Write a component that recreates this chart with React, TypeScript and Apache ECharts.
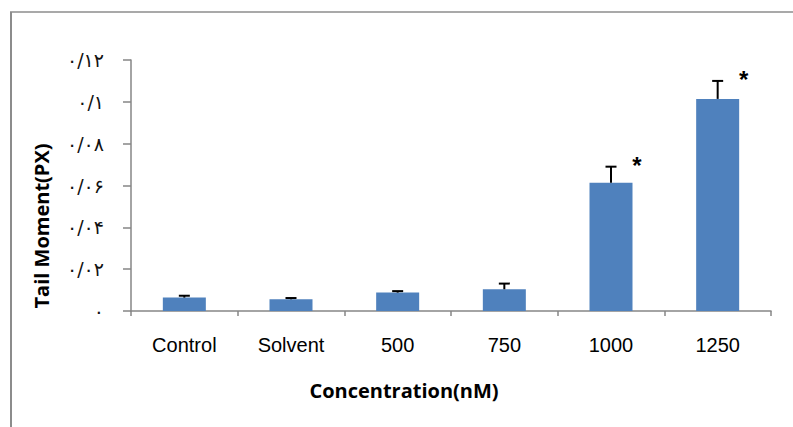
import React, { useEffect, useRef } from "react";
import * as echarts from "echarts";

const categories = ["Control", "Solvent", "500", "750", "1000", "1250"];
const meanValues = [0.0064, 0.0056, 0.0088, 0.0104, 0.0613, 0.1014];
const errorValues = [0.0009, 0.0006, 0.0007, 0.0027, 0.0077, 0.0086];
const significance = ["", "", "", "", "*", "*"];
const yTickLabels = ["۰", "۰/۰۲", "۰/۰۴", "۰/۰۶", "۰/۰۸", "۰/۱", "۰/۱۲"];
const xTitle = "Concentration(nM)";
const yTitle = "Tail Moment(PX)";

export default function App() {
  const ref = useRef<HTMLDivElement>(null);
  useEffect(() => {
    if (!ref.current) return;
    const chart = echarts.init(ref.current, null, { renderer: "svg" });
    const errData = meanValues.map((v, i) => [i, v, errorValues[i]]);
    const titleStyle = { fontFamily: "Open Sans", fontWeight: "bold", fontSize: 20, fill: "#000", align: "center", verticalAlign: "middle" };
    chart.setOption({
      animation: false,
      backgroundColor: "#ffffff",
      grid: { left: 131, right: 22, top: 60, bottom: 116 },
      graphic: [
        { type: "line", shape: { x1: 11, y1: 12, x2: 11, y2: 427 }, style: { stroke: "#8c8c8c", lineWidth: 2 } },
        { type: "line", shape: { x1: 10, y1: 12, x2: 793, y2: 12 }, style: { stroke: "#8c8c8c", lineWidth: 1.5 } },
        { type: "text", x: 404, y: 390, style: { ...titleStyle, text: xTitle } },
        { type: "text", x: 41, y: 226, rotation: Math.PI / 2, style: { ...titleStyle, text: yTitle } },
      ],
      xAxis: {
        type: "category",
        data: categories,
        axisLine: { lineStyle: { color: "#868686", width: 1.5 } },
        axisTick: { show: true, alignWithLabel: false, length: 5, lineStyle: { color: "#868686", width: 1.5 } },
        axisLabel: { fontFamily: "Liberation Sans", fontSize: 20, color: "#000", margin: 24 },
      },
      yAxis: {
        type: "value",
        min: 0,
        max: 0.12,
        interval: 0.02,
        axisLine: { show: true, lineStyle: { color: "#868686", width: 1.5 } },
        axisTick: { show: true, length: 8, lineStyle: { color: "#868686", width: 1.5 } },
        splitLine: { show: false },
        axisLabel: {
          fontFamily: "DejaVu Sans",
          fontSize: 19,
          color: "#111",
          margin: 27,
          formatter: (v: number) => yTickLabels[Math.round(v / 0.02)] ?? "",
        },
      },
      series: [
        {
          type: "bar",
          data: meanValues,
          barWidth: 43,
          itemStyle: { color: "#4F81BD" },
        },
        {
          type: "custom",
          data: errData,
          z: 10,
          renderItem: (params: any, api: any) => {
            const i = api.value(0);
            const v = api.value(1);
            const e = api.value(2);
            const base = api.coord([i, v]);
            const top = api.coord([i, v + e]);
            const children: any[] = [
              { type: "line", shape: { x1: base[0], y1: base[1], x2: top[0], y2: top[1] }, style: { stroke: "#000", lineWidth: 2 } },
              { type: "line", shape: { x1: top[0] - 5.5, y1: top[1], x2: top[0] + 5.5, y2: top[1] }, style: { stroke: "#000", lineWidth: 2 } },
            ];
            const s = significance[params.dataIndex];
            if (s) {
              children.push({
                type: "text",
                style: {
                  text: s,
                  x: top[0] + 26,
                  y: top[1] - 1,
                  fontSize: 24,
                  fontWeight: "bold",
                  fontFamily: "Liberation Sans",
                  fill: "#000",
                  align: "center",
                  verticalAlign: "middle",
                },
              });
            }
            return { type: "group", children };
          },
        },
      ],
    });
    return () => chart.dispose();
  }, []);
  return <div ref={ref} style={{ position: "fixed", left: 0, top: 0, width: 793, height: 427 }} />;
}
